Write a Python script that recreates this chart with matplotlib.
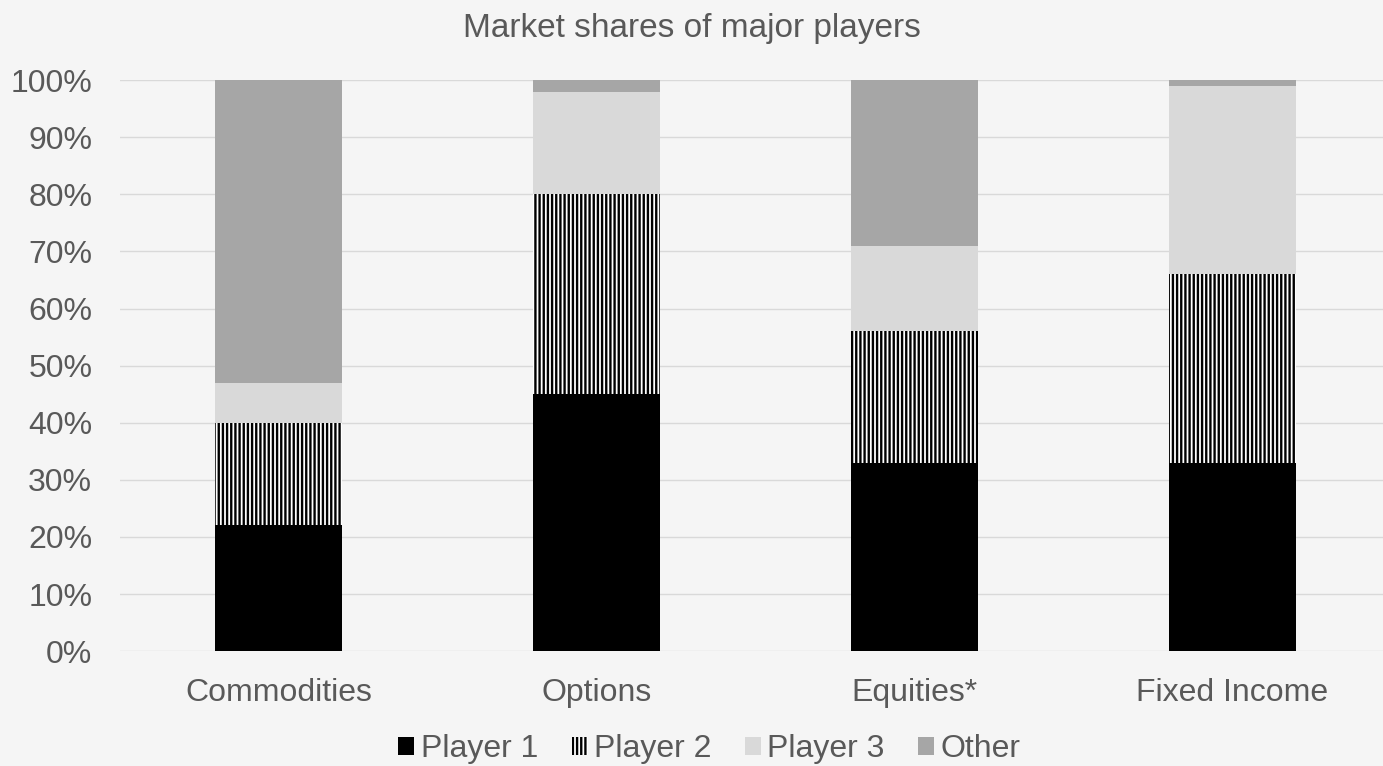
import matplotlib.pyplot as plt
import numpy as np

categories = ['Commodities', 'Options', 'Equities*', 'Fixed Income']
player1 = [22, 45, 33, 33]
player2 = [18, 35, 23, 33]
player3 = [7, 18, 15, 33]
other = [53, 2, 29, 1]

plt.rcParams['font.family'] = ['Liberation Sans', 'DejaVu Sans']
plt.rcParams['hatch.linewidth'] = 1.7
plt.rcParams['hatch.color'] = 'black'

bg = '#f5f5f5'
text_col = '#595959'

fig = plt.figure(figsize=(13.83, 7.66), dpi=100, facecolor=bg)
ax = fig.add_axes([0.0868, 0.150, 0.9132, 0.7454], facecolor=bg)

x = np.arange(len(categories))
w = 0.4
bottom = np.zeros(len(categories))

ax.bar(x, player1, w, bottom=bottom, color='black', label='Player 1', zorder=3)
bottom += player1
ax.bar(x, player2, w, bottom=bottom, color='white', edgecolor='black',
       hatch='||||', linewidth=0, label='Player 2', zorder=3)
bottom += player2
ax.bar(x, player3, w, bottom=bottom, color='#d9d9d9', label='Player 3', zorder=3)
bottom += player3
ax.bar(x, other, w, bottom=bottom, color='#a6a6a6', label='Other', zorder=3)

ax.set_xlim(-0.5, 3.475)
ax.set_ylim(0, 100)
ax.set_yticks(range(0, 101, 10))
ax.set_yticklabels([f'{v}%' for v in range(0, 101, 10)])
ax.set_xticks(x)
ax.set_xticklabels(categories)
ax.tick_params(length=0, labelsize=23, colors=text_col)
ax.tick_params(axis='x', pad=19.5)
ax.tick_params(axis='y', pad=20)
ax.grid(axis='y', color='#d9d9d9', linewidth=1, zorder=0)
for s in ax.spines.values():
    s.set_visible(False)

fig.text(0.5, 0.963, 'Market shares of major players', ha='center', va='center',
         fontsize=24, color=text_col)

leg = fig.legend(loc='center', bbox_to_anchor=(0.513, 0.022), ncol=4, frameon=False,
                 fontsize=23, handlelength=0.5, handleheight=0.5, handletextpad=0.2,
                 columnspacing=1.05, borderpad=0)
for t in leg.get_texts():
    t.set_color(text_col)

fig.savefig('out.png', dpi=100, facecolor=bg)
